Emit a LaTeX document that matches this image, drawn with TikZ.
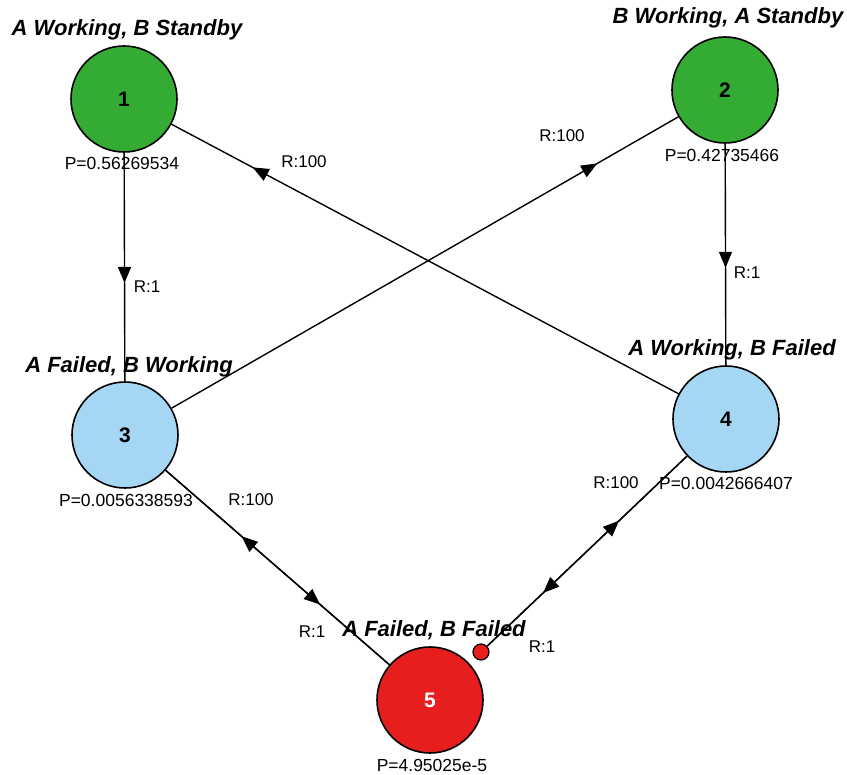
\documentclass[tikz,border=0pt]{standalone}
\usepackage{fontspec}
\setmainfont{Liberation Sans}
\usepackage{xcolor}
\usetikzlibrary{arrows.meta, decorations.markings}

\definecolor{stategreen}{RGB}{52,172,52}
\definecolor{stateblue}{RGB}{165,215,245}
\definecolor{statered}{RGB}{230,30,30}

\begin{document}
\begin{tikzpicture}[
    x=1pt, y=-1pt,
    state/.style={circle, draw, line width=1.6pt, minimum size=106pt,
                  inner sep=0pt, font=\fontsize{21}{23}\selectfont\bfseries},
    port/.style={circle, draw, line width=1.2pt, fill=statered,
                 minimum size=16pt, inner sep=0pt},
    title/.style={font=\fontsize{22}{24}\selectfont\bfseries\itshape},
    prob/.style={font=\fontsize{17.5}{19}\selectfont},
    rate/.style={font=\fontsize{17}{19}\selectfont},
    edge/.style={line width=1.4pt},
    midarrow/.style={postaction={decorate}, decoration={markings,
                     mark=at position #1 with {\arrow{Triangle[length=16pt,width=13pt]}}}},
]
\useasboundingbox (0,0) rectangle (847,775);

% States
\node[state, fill=stategreen] (s1) at (124,99) {1};
\node[state, fill=stategreen] (s2) at (725,90) {2};
\node[state, fill=stateblue] (s3) at (125,435) {3};
\node[state, fill=stateblue] (s4) at (726,419) {4};
\node[state, fill=statered, text=white] (s5) at (430,700) {5};
\node[port] (p5) at (481,652) {};

% State names
\node[title] (t1) at (127,30) {A Working, B Standby};
\node[title] (t2) at (728,18) {B Working, A Standby};
\node[title] (t3) at (129,367) {A Failed, B Working};
\node[title] (t4) at (732,350) {A Working, B Failed};
\node[title] (t5) at (434,630) {A Failed, B Failed};

% Probabilities
\node[prob] (pr1) at (122,163) {P=0.56269534};
\node[prob] (pr2) at (722,155) {P=0.42735466};
\node[prob] (pr3) at (126,500) {P=0.0056338593};
\node[prob] (pr4) at (726,483) {P=0.0042666407};
\node[prob] (pr5) at (432,765) {P=4.95025e-5};

% Rates
\node[rate] (r13) at (147,287) {R:1};
\node[rate] (r24) at (747,273) {R:1};
\node[rate] (r41) at (304,162) {R:100};
\node[rate] (r32) at (562,136) {R:100};
\node[rate] (r53) at (251,500) {R:100};
\node[rate] (r35) at (312,632) {R:1};
\node[rate] (r54) at (616,483) {R:100};
\node[rate] (r45) at (542,647) {R:1};

% Arrows
\draw[edge, midarrow=0.57] (s1) -- (s3);
\draw[edge, midarrow=0.56] (s2) -- (s4);
\draw[edge, midarrow=0.84] (s4) -- (s1);
\draw[edge, midarrow=0.84] (s3) -- (s2);
\draw[edge, midarrow=0.69] (s3) -- (s5);
\draw[edge, midarrow=0.66] (s5) -- (s3);
\draw[edge, midarrow=0.72] (s4) -- (p5);
\draw[edge, midarrow=0.66] (p5) -- (s4);

\end{tikzpicture}
\end{document}
